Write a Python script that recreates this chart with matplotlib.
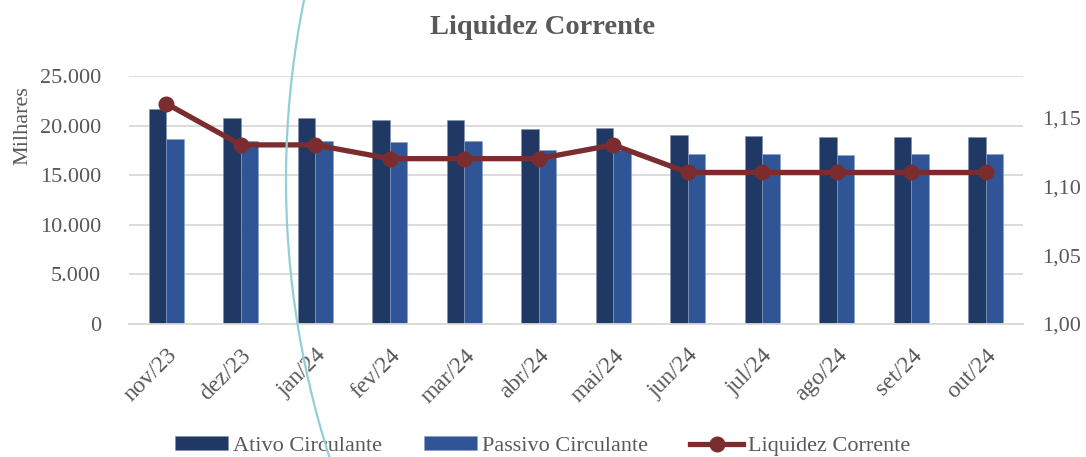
import matplotlib
matplotlib.use("Agg")
import matplotlib.pyplot as plt
from matplotlib.patches import Arc
from matplotlib.ticker import FuncFormatter, FixedLocator
import numpy as np

categories = ["nov/23", "dez/23", "jan/24", "fev/24", "mar/24", "abr/24",
              "mai/24", "jun/24", "jul/24", "ago/24", "set/24", "out/24"]
ativo = [21650, 20800, 20800, 20600, 20600, 19700, 19750, 19050, 18950, 18900, 18900, 18900]
passivo = [18650, 18450, 18450, 18350, 18400, 17550, 17500, 17150, 17100, 17050, 17100, 17100]
liquidez = [1.16, 1.13, 1.13, 1.12, 1.12, 1.12, 1.13, 1.11, 1.11, 1.11, 1.11, 1.11]

c_ativo = "#203864"
c_passivo = "#2F5597"
c_line = "#7B2C2F"
c_text = "#595959"
c_grid = "#d9d9d9"
font = ["Liberation Serif", "DejaVu Serif"]
plt.rcParams["font.family"] = font

W, H = 1086, 457
fig = plt.figure(figsize=(W / 100, H / 100), dpi=100)
ax = fig.add_axes([129 / W, 1 - 324 / H, (1023 - 129) / W, (324 - 76) / H])

x = np.arange(len(categories))
bw = 0.235
ax.bar(x - bw / 2, ativo, bw, color=c_ativo, edgecolor="#8090b0", linewidth=0.4,
       label="Ativo Circulante", zorder=2)
ax.bar(x + bw / 2, passivo, bw, color=c_passivo, edgecolor="#8aa0c8", linewidth=0.4,
       label="Passivo Circulante", zorder=2)
ax.set_xlim(-0.5, len(categories) - 0.5)
ax.set_ylim(0, 25000)
ax.yaxis.set_major_locator(FixedLocator([0, 5000, 10000, 15000, 20000, 25000]))
ax.yaxis.set_major_formatter(FuncFormatter(lambda v, p: f"{int(v):,}".replace(",", ".")))
ax.grid(axis="y", color=c_grid, linewidth=1.3, zorder=0)
ax.set_axisbelow(True)
for s in ["top", "right", "left"]:
    ax.spines[s].set_visible(False)
ax.spines["bottom"].set_color(c_grid)
ax.spines["bottom"].set_linewidth(1.3)
ax.tick_params(axis="y", length=0, labelsize=16, labelcolor=c_text, pad=20)
ax.tick_params(axis="x", length=0, labelsize=17, labelcolor=c_text, pad=15)
ax.set_xticks(x)
ax.set_xticklabels(categories, rotation=45, ha="right", rotation_mode="anchor")
ax.set_ylabel("Milhares", fontsize=16, color=c_text)
ax.yaxis.set_label_coords(-0.108, 0.80)

ax2 = ax.twinx()
ax2.plot(x, liquidez, color=c_line, linewidth=3.8, marker="o", markersize=10.5,
         label="Liquidez Corrente", zorder=5)
ax2.set_ylim(1.0, 1.18)
ax2.yaxis.set_major_locator(FixedLocator([1.00, 1.05, 1.10, 1.15]))
ax2.yaxis.set_major_formatter(FuncFormatter(lambda v, p: f"{v:.2f}".replace(".", ",")))
for s in ["top", "right", "left", "bottom"]:
    ax2.spines[s].set_visible(False)
ax2.tick_params(axis="y", length=0, labelsize=16, labelcolor=c_text, pad=14)

fig.text(0.5, 1 - 28 / H, "Liquidez Corrente", ha="center", va="center",
         fontsize=20.5, fontweight="bold", color=c_text)

h1, l1 = ax.get_legend_handles_labels()
h2, l2 = ax2.get_legend_handles_labels()
leg = fig.legend(h1 + h2, l1 + l2, loc="center", bbox_to_anchor=(0.5, 1 - 446 / H),
                 ncol=3, frameon=False, fontsize=16, handlelength=2.35, handleheight=0.55,
                 columnspacing=1.9, handletextpad=0.25, labelcolor=c_text)

# decorative arc overlay present in the source image
arc = Arc((1192 / W, 1 - 180 / H), 2 * 906 / W, 2 * 906 / H, theta1=145, theta2=225,
          transform=fig.transFigure, color="#93cfd6", linewidth=1.6, zorder=10)
fig.add_artist(arc)

fig.savefig("out.png", dpi=100, facecolor="white")
